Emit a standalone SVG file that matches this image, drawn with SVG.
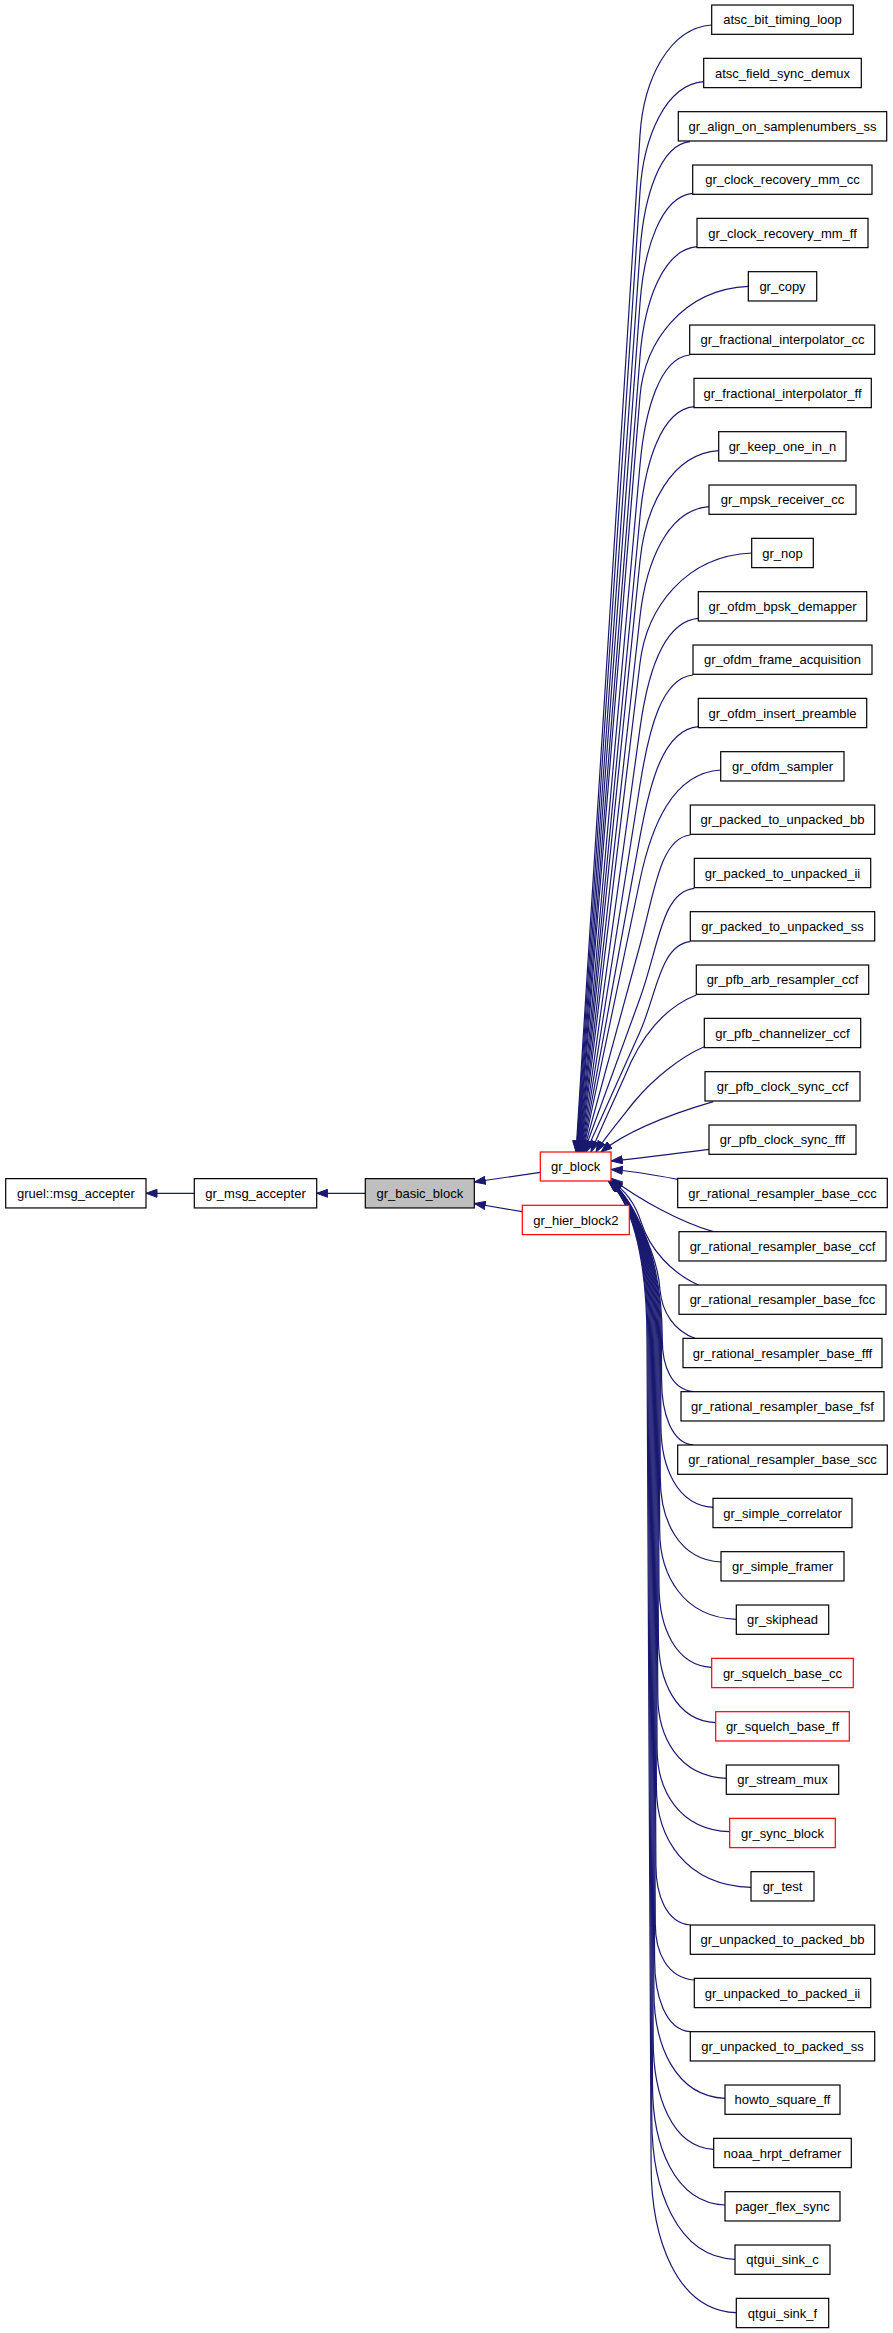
<svg xmlns="http://www.w3.org/2000/svg" width="893" height="2333" viewBox="0 0 893 2333">
<style>
.n rect{fill:#fff;stroke:#000;stroke-width:1.2}
.n.r rect{stroke:#f00}
.n.g rect{fill:#bfbfbf}
.n text{font-family:"Liberation Sans",Arial,sans-serif;font-size:13px;text-anchor:middle;fill:#000}
#edges path{fill:none;stroke:#191970;stroke-width:1.2;marker-end:url(#ah)}
</style>
<defs>
<marker id="ah" markerUnits="userSpaceOnUse" markerWidth="12" markerHeight="9" viewBox="0 0 12 9" refX="11.5" refY="4.5" orient="auto">
<path d="M0.5,0.5 L11.5,4.5 L0.5,8.5 z" fill="#191970" stroke="#191970" stroke-width="1"/>
</marker>
</defs>
<rect width="893" height="2333" fill="#fff"/>
<g id="edges">
<path d="M194.3,1193.3 L146,1193.3"/>
<path d="M365.3,1193.3 L316.7,1193.3"/>
<path d="M540.3,1172.3 L474.3,1182"/>
<path d="M522.3,1211.7 L474.3,1203.5"/>
<path d="M711.7,25 C668.7,28 643.5,80.1 640,135 L576,1152"/>
<path d="M703.7,81.7 C665.5,84.7 643.6,136.8 640,191.7 L576.5,1152"/>
<path d="M690,141.7 C660,144.7 643.8,196.8 640,251.7 L577,1152"/>
<path d="M692.7,193.3 C661.1,196.3 644,248.5 640,303.3 L577.5,1152"/>
<path d="M697,246.7 C662.8,249.7 644.3,301.9 640,356.7 L578,1152"/>
<path d="M748.3,286.3 C683.3,289.3 644.5,341.5 640,396.3 L578.5,1152"/>
<path d="M689.7,355 C659.9,358 644.9,410.2 640,465 L579,1152"/>
<path d="M694,406.7 C661.6,409.7 645.2,462 640,516.7 L579.5,1152"/>
<path d="M718.7,450.7 C671.5,453.7 645.6,506 640,560.7 L580,1152"/>
<path d="M709,506.7 C667.6,509.7 646.1,562 640,616.7 L580.5,1152"/>
<path d="M751.7,553 C684.7,556 646.6,608.4 640,663 L581,1152"/>
<path d="M698.3,618.3 C663.3,621.3 647.5,673.8 640,728.3 L581.5,1152"/>
<path d="M693,675 C661.2,678 648.6,730.7 640,785 L582,1152"/>
<path d="M698.3,726.7 C663.3,729.7 649.9,782.6 640,836.7 L582.5,1152"/>
<path d="M720.7,770 C672.3,773 651.3,826.2 640,880 L583,1152"/>
<path d="M690.3,835 C660.1,838 654.5,891.9 640,945 L583.5,1152"/>
<path d="M694.3,888.3 C661.7,891.3 658.8,946.6 640,998.3 L584,1152"/>
<path d="M690.3,941.7 C660.1,944.7 656.4,995.2 640,1031.7 L586,1152"/>
<path d="M696.3,995 C666,1007 645,1033 631,1062 C619,1090 600,1130 591,1152"/>
<path d="M704.3,1046.7 C680,1057 652,1080 634,1102 C618,1122 603,1140 596,1152"/>
<path d="M713.3,1101.7 C685,1110 632,1127 601,1152"/>
<path d="M709,1149.3 C680,1153 640,1158 611.3,1161"/>
<path d="M677.7,1179.3 C655,1175 632,1171 611.3,1169.5"/>
<path d="M713.3,1231.7 C680,1222 640,1200 611.3,1178.5"/>
<path d="M698.3,1285 C672,1273 650,1250 641,1222 C635,1203 625,1190 611.3,1181.3"/>
<path d="M695,1338.3 C674,1331 662,1312 660,1290 C658,1255 632,1202 611.2,1181.3"/>
<path d="M693.3,1391.7 C671.6,1389.7 662.3,1365.9 662.3,1340 C662.3,1250 631,1198.3 611,1181.3"/>
<path d="M693.3,1445 C671.1,1443 661.6,1412.5 661.6,1380 L661.4,1340 C661.4,1250 630.9,1198.3 610.9,1181.3"/>
<path d="M713.3,1507.3 C676.6,1505.3 660.9,1466.3 660.9,1425.3 L660.5,1340 C660.5,1250 630.7,1198.3 610.7,1181.3"/>
<path d="M721,1562 C678.5,1560 660.3,1520 660.3,1478 L659.6,1340 C659.6,1250 630.6,1198.3 610.6,1181.3"/>
<path d="M736.3,1619.3 C682.7,1617.3 659.7,1574.8 659.7,1530.3 L658.7,1340 C658.7,1250 630.4,1198.3 610.4,1181.3"/>
<path d="M711.7,1667.3 C674.8,1665.3 659,1626.3 659,1585.3 L657.8,1340 C657.8,1250 630.3,1198.3 610.3,1181.3"/>
<path d="M715.7,1722.7 C675.6,1720.7 658.4,1680.2 658.4,1637.7 L656.9,1340 C656.9,1250 630.1,1198.3 610.1,1181.3"/>
<path d="M726.3,1778.3 C678.4,1776.3 657.8,1736.8 657.8,1695.3 L656,1340 C656,1250 630,1198.3 610,1181.3"/>
<path d="M729.7,1831.7 C678.9,1829.7 657.1,1790.2 657.1,1748.7 L655.1,1340 C655.1,1250 629.8,1198.3 609.8,1181.3"/>
<path d="M751,1887.3 C684.8,1885.3 656.4,1837.3 656.4,1787.3 L654.2,1340 C654.2,1250 629.7,1198.3 609.7,1181.3"/>
<path d="M690.3,1925 C666.2,1923 655.9,1895 655.9,1865 L653.3,1340 C653.3,1250 629.5,1198.3 609.5,1181.3"/>
<path d="M694.3,1980 C667,1978 655.3,1952 655.3,1924 L652.4,1340 C652.4,1250 629.4,1198.3 609.4,1181.3"/>
<path d="M690.3,2031.7 C665.3,2029.7 654.6,1995.7 654.6,1959.7 L651.5,1340 C651.5,1250 629.2,1198.3 609.2,1181.3"/>
<path d="M725,2098.3 C675.2,2096.3 653.9,2044.8 653.9,1991.3 L650.6,1340 C650.6,1250 629.1,1198.3 609.1,1181.3"/>
<path d="M713.7,2149.3 C671.3,2147.3 653.2,2094.8 653.2,2040.3 L649.7,1340 C649.7,1250 628.9,1198.3 608.9,1181.3"/>
<path d="M725,2205 C674.3,2203 652.5,2145 652.5,2085 L648.8,1340 C648.8,1250 628.8,1198.3 608.8,1181.3"/>
<path d="M735,2259.3 C676.8,2257.3 651.8,2189.3 651.8,2119.3 L647.9,1340 C647.9,1250 628.6,1198.3 608.6,1181.3"/>
<path d="M736.3,2312.7 C676.7,2310.7 651.1,2238.7 651.1,2164.7 L647,1340 C647,1250 628.5,1198.3 608.5,1181.3"/>
</g>
<g id="gruel_msg_accepter" class="n"><rect x="5.7" y="1178.65" width="140.3" height="29.3"/><text x="75.85" y="1197.9">gruel::msg_accepter</text></g>
<g id="gr_msg_accepter" class="n"><rect x="194.3" y="1178.65" width="122.4" height="29.3"/><text x="255.5" y="1197.9">gr_msg_accepter</text></g>
<g id="gr_basic_block" class="n g"><rect x="365.3" y="1178.65" width="109" height="29.3"/><text x="419.8" y="1197.9">gr_basic_block</text></g>
<g id="gr_block" class="n r"><rect x="540.3" y="1152" width="70.7" height="29"/><text x="575.65" y="1171.1">gr_block</text></g>
<g id="gr_hier_block2" class="n r"><rect x="522.3" y="1205.3" width="107" height="29.3"/><text x="575.8" y="1224.6">gr_hier_block2</text></g>
<g id="n0" class="n"><rect x="711.7" y="5.02" width="141.6" height="29.3"/><text x="782.5" y="24.27">atsc_bit_timing_loop</text></g>
<g id="n1" class="n"><rect x="703.7" y="58.35" width="157.6" height="29.3"/><text x="782.5" y="77.6">atsc_field_sync_demux</text></g>
<g id="n2" class="n"><rect x="678.3" y="111.68" width="208.4" height="29.3"/><text x="782.5" y="130.93">gr_align_on_samplenumbers_ss</text></g>
<g id="n3" class="n"><rect x="692.7" y="165.02" width="179.3" height="29.3"/><text x="782.5" y="184.27">gr_clock_recovery_mm_cc</text></g>
<g id="n4" class="n"><rect x="697" y="218.35" width="171" height="29.3"/><text x="782.5" y="237.6">gr_clock_recovery_mm_ff</text></g>
<g id="n5" class="n"><rect x="748.3" y="271.68" width="68.4" height="29.3"/><text x="782.5" y="290.93">gr_copy</text></g>
<g id="n6" class="n"><rect x="689.7" y="325.02" width="185" height="29.3"/><text x="782.5" y="344.27">gr_fractional_interpolator_cc</text></g>
<g id="n7" class="n"><rect x="694" y="378.35" width="177.3" height="29.3"/><text x="782.5" y="397.6">gr_fractional_interpolator_ff</text></g>
<g id="n8" class="n"><rect x="718.7" y="431.68" width="127.3" height="29.3"/><text x="782.5" y="450.93">gr_keep_one_in_n</text></g>
<g id="n9" class="n"><rect x="709" y="485.02" width="147" height="29.3"/><text x="782.5" y="504.27">gr_mpsk_receiver_cc</text></g>
<g id="n10" class="n"><rect x="751.7" y="538.35" width="61.6" height="29.3"/><text x="782.5" y="557.6">gr_nop</text></g>
<g id="n11" class="n"><rect x="698.3" y="591.68" width="168.4" height="29.3"/><text x="782.5" y="610.93">gr_ofdm_bpsk_demapper</text></g>
<g id="n12" class="n"><rect x="693" y="645.02" width="179" height="29.3"/><text x="782.5" y="664.27">gr_ofdm_frame_acquisition</text></g>
<g id="n13" class="n"><rect x="698.3" y="698.35" width="168.4" height="29.3"/><text x="782.5" y="717.6">gr_ofdm_insert_preamble</text></g>
<g id="n14" class="n"><rect x="720.7" y="751.68" width="123.3" height="29.3"/><text x="782.5" y="770.93">gr_ofdm_sampler</text></g>
<g id="n15" class="n"><rect x="690.3" y="805.02" width="184.4" height="29.3"/><text x="782.5" y="824.27">gr_packed_to_unpacked_bb</text></g>
<g id="n16" class="n"><rect x="694.3" y="858.35" width="176.4" height="29.3"/><text x="782.5" y="877.6">gr_packed_to_unpacked_ii</text></g>
<g id="n17" class="n"><rect x="690.3" y="911.68" width="184.4" height="29.3"/><text x="782.5" y="930.93">gr_packed_to_unpacked_ss</text></g>
<g id="n18" class="n"><rect x="696.3" y="965.02" width="172.4" height="29.3"/><text x="782.5" y="984.27">gr_pfb_arb_resampler_ccf</text></g>
<g id="n19" class="n"><rect x="704.3" y="1018.35" width="156.4" height="29.3"/><text x="782.5" y="1037.6">gr_pfb_channelizer_ccf</text></g>
<g id="n20" class="n"><rect x="705" y="1071.68" width="155" height="29.3"/><text x="782.5" y="1090.93">gr_pfb_clock_sync_ccf</text></g>
<g id="n21" class="n"><rect x="709" y="1125.02" width="147" height="29.3"/><text x="782.5" y="1144.27">gr_pfb_clock_sync_fff</text></g>
<g id="n22" class="n"><rect x="677.7" y="1178.35" width="209.6" height="29.3"/><text x="782.5" y="1197.6">gr_rational_resampler_base_ccc</text></g>
<g id="n23" class="n"><rect x="679" y="1231.68" width="207" height="29.3"/><text x="782.5" y="1250.93">gr_rational_resampler_base_ccf</text></g>
<g id="n24" class="n"><rect x="679" y="1285.02" width="207" height="29.3"/><text x="782.5" y="1304.27">gr_rational_resampler_base_fcc</text></g>
<g id="n25" class="n"><rect x="683" y="1338.35" width="199" height="29.3"/><text x="782.5" y="1357.6">gr_rational_resampler_base_fff</text></g>
<g id="n26" class="n"><rect x="681" y="1391.68" width="203" height="29.3"/><text x="782.5" y="1410.93">gr_rational_resampler_base_fsf</text></g>
<g id="n27" class="n"><rect x="677.7" y="1445.02" width="209.6" height="29.3"/><text x="782.5" y="1464.27">gr_rational_resampler_base_scc</text></g>
<g id="n28" class="n"><rect x="713" y="1498.35" width="139" height="29.3"/><text x="782.5" y="1517.6">gr_simple_correlator</text></g>
<g id="n29" class="n"><rect x="721" y="1551.68" width="123" height="29.3"/><text x="782.5" y="1570.93">gr_simple_framer</text></g>
<g id="n30" class="n"><rect x="736.3" y="1605.02" width="92.4" height="29.3"/><text x="782.5" y="1624.27">gr_skiphead</text></g>
<g id="n31" class="n r"><rect x="711.7" y="1658.35" width="141.6" height="29.3"/><text x="782.5" y="1677.6">gr_squelch_base_cc</text></g>
<g id="n32" class="n r"><rect x="715.7" y="1711.68" width="133.6" height="29.3"/><text x="782.5" y="1730.93">gr_squelch_base_ff</text></g>
<g id="n33" class="n"><rect x="726.3" y="1765.02" width="112.4" height="29.3"/><text x="782.5" y="1784.27">gr_stream_mux</text></g>
<g id="n34" class="n r"><rect x="729.7" y="1818.35" width="105.6" height="29.3"/><text x="782.5" y="1837.6">gr_sync_block</text></g>
<g id="n35" class="n"><rect x="751" y="1871.68" width="63" height="29.3"/><text x="782.5" y="1890.93">gr_test</text></g>
<g id="n36" class="n"><rect x="690.3" y="1925.02" width="184.4" height="29.3"/><text x="782.5" y="1944.27">gr_unpacked_to_packed_bb</text></g>
<g id="n37" class="n"><rect x="694.3" y="1978.35" width="176.4" height="29.3"/><text x="782.5" y="1997.6">gr_unpacked_to_packed_ii</text></g>
<g id="n38" class="n"><rect x="690.3" y="2031.68" width="184.4" height="29.3"/><text x="782.5" y="2050.93">gr_unpacked_to_packed_ss</text></g>
<g id="n39" class="n"><rect x="725" y="2085.02" width="115" height="29.3"/><text x="782.5" y="2104.27">howto_square_ff</text></g>
<g id="n40" class="n"><rect x="713.7" y="2138.35" width="137.6" height="29.3"/><text x="782.5" y="2157.6">noaa_hrpt_deframer</text></g>
<g id="n41" class="n"><rect x="725" y="2191.68" width="115" height="29.3"/><text x="782.5" y="2210.93">pager_flex_sync</text></g>
<g id="n42" class="n"><rect x="735" y="2245.02" width="95" height="29.3"/><text x="782.5" y="2264.27">qtgui_sink_c</text></g>
<g id="n43" class="n"><rect x="736.3" y="2298.35" width="92.4" height="29.3"/><text x="782.5" y="2317.6">qtgui_sink_f</text></g>
</svg>
